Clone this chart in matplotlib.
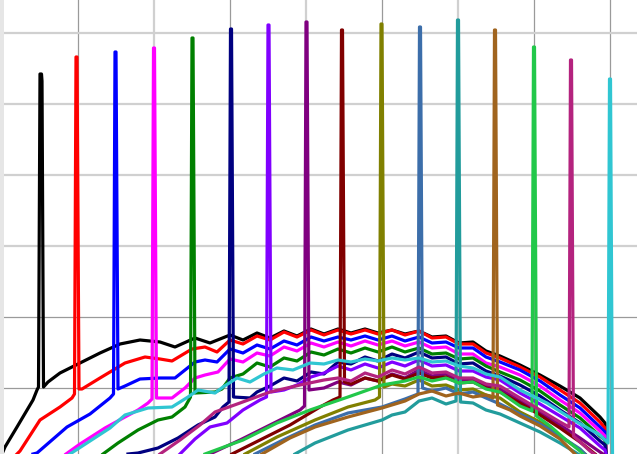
import matplotlib
matplotlib.use("Agg")
import matplotlib.pyplot as plt

# 16 traces, each with one narrow spike; x/h values
black_x = [2, 5, 17, 33, 37, 38.5, 40, 41.5, 42, 43.5, 48, 60, 78, 100, 120, 140, 160, 175, 195, 210,
           230, 243, 257, 270, 284, 297, 311, 324, 338, 351, 365, 378, 392, 405, 419, 432, 446, 459, 473, 486,
           500, 520, 540, 560, 580, 600, 605, 606]
black_h = [0, 7, 27, 54, 64, 67, 380, 380, 373, 67, 72, 81, 90, 101, 110, 114, 112, 107, 116, 111,
           119, 114, 121, 116, 123, 118, 125, 120, 125, 121, 125, 121, 124, 120, 123, 117, 118, 111, 112, 103,
           98, 89, 79, 68, 56, 37, 31, 0]

red_x = [17, 20, 40, 60, 72, 74.5, 76, 77, 79, 82, 100, 125, 145, 160, 172, 192, 205, 217,
         230, 243, 257, 270, 284, 297, 311, 324, 338, 351, 365, 378, 392, 405, 419, 432, 446, 459, 473, 486,
         500, 520, 540, 560, 580, 600, 605, 606]
red_h = [0, 3, 34, 47, 56, 60, 397, 397, 65, 65, 76, 91, 97, 95, 93, 105, 107, 102,
         114, 110, 118, 114, 122, 117, 124, 119, 124, 120, 124, 120, 124, 119, 123, 116, 117, 110, 110, 101,
         96, 87, 77, 64, 51, 32, 26, 0]

blue_x = [33, 37, 67, 90, 110, 113.5, 115, 116, 118, 125, 140, 160, 175, 195, 205, 217,
          230, 243, 257, 270, 284, 297, 311, 324, 338, 351, 365, 378, 392, 405, 419, 432, 446, 459, 473, 486,
          500, 520, 540, 560, 580, 600, 605, 606]
blue_h = [0, 1, 27, 40, 56, 60, 402, 402, 65, 68, 75, 76, 76, 92, 94, 92,
          105, 101, 109, 105, 113, 109, 117, 113, 117, 114, 118, 114, 118, 113, 117, 111, 112, 106, 106, 97,
          92, 84, 73, 59, 46, 27, 22, 0]

magenta_x = [66, 80, 105, 125, 138, 148, 152, 153.5, 154.5, 156.5, 172, 185, 195, 205, 218,
             230, 243, 257, 270, 284, 297, 311, 324, 338, 351, 365, 378, 392, 405, 419, 432, 446, 459, 473, 486,
             500, 520, 540, 560, 580, 600, 605, 606]
magenta_h = [0, 10, 26, 37, 44, 51, 55, 406, 406, 56, 56, 66, 76, 79, 82,
             95, 92, 101, 98, 107, 103, 111, 107, 112, 108, 113, 109, 113, 108, 112, 106, 107, 100, 100, 91,
             87, 79, 68, 54, 41, 23, 18, 0]

green_x = [103, 118, 138, 158, 172, 185, 190.5, 192, 193, 195, 215, 222,
           230, 243, 257, 270, 284, 297, 311, 324, 338, 351, 365, 378, 392, 405, 419, 432, 446, 459, 473, 486,
           500, 520, 540, 560, 580, 600, 605, 606]
green_h = [0, 11, 24, 34, 37, 47, 57, 416, 416, 61, 62, 65,
           76, 80, 91, 87, 96, 93, 102, 99, 105, 101, 106, 102, 107, 102, 106, 100, 101, 95, 96, 88,
           82, 74, 63, 49, 36, 18, 14, 0]

navy_x = [128, 138, 158, 178, 198, 215, 223, 229, 230.5, 231.5, 233.5, 250, 257, 270, 284, 297, 311, 324,
          338, 351, 365, 378, 392, 405, 419, 432, 446, 459, 473, 486, 500, 520, 540, 560, 580, 600, 605, 606]
navy_h = [0, 1, 6, 16, 29, 37, 47, 52, 425, 425, 57, 56, 62, 68, 76, 73, 82, 80,
          92, 90, 97, 93, 100, 96, 102, 96, 97, 90, 91, 83, 78, 69, 58, 44, 31, 13, 9, 0]

violet_x = [180, 195, 210, 227, 243, 260, 266.5, 268, 269, 271, 284, 297, 311, 324, 338, 351, 365, 378,
            392, 405, 419, 432, 446, 459, 473, 486, 500, 520, 540, 560, 580, 600, 605, 606]
violet_h = [0, 15, 27, 31, 44, 54, 57, 429, 429, 62, 64, 69, 77, 81, 88, 84, 90, 86,
            92, 88, 94, 88, 89, 83, 83, 77, 74, 61, 50, 38, 26, 8, 4, 0]

purple_x = [210, 240, 270, 300, 304.5, 306, 307, 309, 324, 338, 351, 365, 378, 392, 405, 419, 432, 446,
            459, 473, 486, 500, 520, 540, 560, 580, 600, 603]
purple_h = [0, 14, 29, 44, 48, 432, 432, 64, 66, 72, 69, 76, 73, 80, 76, 84, 78, 80,
            74, 75, 68, 65, 53, 42, 29, 16, 2, 0]

maroon_x = [232, 260, 290, 320, 333, 340, 341.5, 342.5, 344.5, 351, 365, 378, 392, 405, 419, 432, 446, 459,
            473, 486, 500, 520, 540, 560, 580, 595]
maroon_h = [0, 14, 29, 47, 54, 57, 424, 424, 72, 70, 76, 73, 79, 75, 81, 76, 77, 71,
            72, 66, 62, 51, 39, 26, 12, 0]

olive_x = [245, 277, 315, 348, 375, 379.5, 381, 382, 384, 392, 405, 419, 432, 446, 459, 473, 486,
           500, 520, 540, 560, 580, 585]
olive_h = [0, 17, 34, 47, 54, 57, 430, 430, 67, 70, 68, 74, 68, 69, 64, 65, 59,
           56, 42, 32, 18, 4, 0]

steel_x = [255, 285, 315, 348, 382, 405, 418, 419.5, 420.5, 422.5, 432, 446, 459, 473, 486,
           500, 520, 540, 560, 580, 585]
steel_h = [0, 15, 29, 41, 47, 55, 60, 427, 427, 66, 63, 66, 60, 62, 56,
           50, 40, 30, 18, 5, 0]

teal_x = [295, 315, 348, 382, 392, 405, 419, 432, 446, 456, 457.5, 458.5, 460.5, 473, 486, 500, 520, 540, 560, 578]
teal_h = [0, 11, 24, 34, 39, 42, 53, 56, 50, 53, 434, 434, 52, 51, 44, 40, 31, 22, 11, 0]

brown_x = [262, 290, 315, 348, 382, 405, 419, 432, 446, 459, 473, 486, 493, 494.5, 495.5, 497.5,
           510, 520, 540, 560, 575]
brown_h = [0, 16, 27, 37, 46, 53, 60, 63, 58, 61, 57, 59, 56, 424, 424, 49,
           44, 38, 28, 15, 0]

lime_x = [205, 243, 277, 310, 348, 382, 405, 419, 432, 446, 459, 473, 486, 500, 520, 532, 533.5, 534.5, 536.5,
          550, 565, 580, 583]
lime_h = [0, 14, 31, 44, 57, 69, 73, 77, 73, 76, 71, 72, 65, 62, 48, 43, 407, 407, 38,
          28, 15, 3, 0]

pink_x = [160, 180, 200, 215, 240, 270, 300, 324, 338, 351, 365, 378, 392, 405, 419, 432, 446, 459, 473, 486,
          500, 520, 540, 560, 569, 570.5, 571.5, 573.5, 590, 594]
pink_h = [0, 14, 29, 42, 51, 62, 69, 74, 76, 73, 81, 77, 84, 80, 87, 81, 82, 76, 76, 70,
          68, 56, 44, 32, 27, 394, 394, 18, 3, 0]

cyan_x = [70, 90, 110, 125, 148, 172, 188, 198, 215, 223, 237, 250, 264, 277, 293, 310, 324, 338, 351, 365,
          378, 392, 405, 419, 432, 446, 459, 473, 486, 500, 520, 547, 577, 600, 608, 609.5, 610.5, 612.5]
cyan_h = [0, 13, 26, 39, 46, 47, 57, 64, 61, 67, 76, 72, 80, 86, 84, 91, 90, 94, 92, 95,
          93, 96, 94, 96, 92, 93, 88, 86, 80, 77, 64, 51, 32, 19, 11, 375, 375, 0]

traces = [
    (black_x, black_h, '#000000'),
    (red_x, red_h, '#ff0000'),
    (blue_x, blue_h, '#0000ff'),
    (magenta_x, magenta_h, '#ff00ff'),
    (green_x, green_h, '#008000'),
    (navy_x, navy_h, '#000080'),
    (violet_x, violet_h, '#8000ff'),
    (purple_x, purple_h, '#800080'),
    (maroon_x, maroon_h, '#800000'),
    (olive_x, olive_h, '#808000'),
    (steel_x, steel_h, '#3c6eaa'),
    (teal_x, teal_h, '#229c9c'),
    (brown_x, brown_h, '#a0641e'),
    (lime_x, lime_h, '#22c84a'),
    (pink_x, pink_h, '#b4237e'),
    (cyan_x, cyan_h, '#30c6d2'),
]

fig = plt.figure(figsize=(6.37, 4.54), dpi=100, facecolor='#e6e6e6')
ax = fig.add_axes([4 / 637, 0, 633 / 637, 1])
ax.set_facecolor('white')

for xs, hs, c in traces:
    ax.plot(xs, hs, color=c, lw=2.3)

ax.set_xlim(4, 637)
ax.set_ylim(0, 454)

# grid: darker major lines, paler minor ones
ax.set_xticks([78, 230, 382, 534, 610])
ax.set_xticks([154, 306, 458], minor=True)
ax.set_yticks([66, 137])
ax.set_yticks([208, 279, 350, 421], minor=True)
ax.grid(True, which='major', color='#9a9a9a', lw=0.9)
ax.grid(True, which='minor', color='#d0d0d0', lw=1.6)
ax.set_axisbelow(True)
ax.tick_params(which='both', length=0, labelleft=False, labelbottom=False)
for s in ax.spines.values():
    s.set_visible(False)

fig.savefig('out.png', dpi=100, facecolor=fig.get_facecolor())
